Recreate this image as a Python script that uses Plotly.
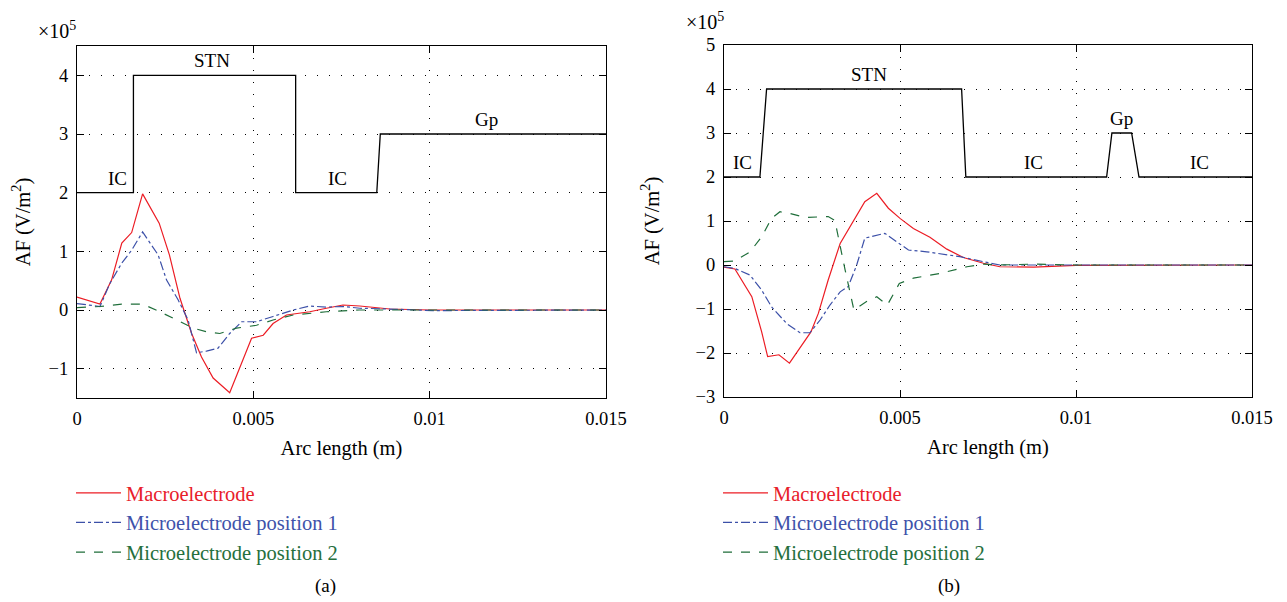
import plotly.graph_objects as go

# ---------------- data (panel a) ----------------
tis_a_x = [0, 0.0016, 0.0016, 0.0062, 0.0062, 0.0085, 0.0086, 0.015]
tis_a_y = [2, 2, 4, 4, 2, 2, 3, 3]

macro_a_x = [0, 0.00065, 0.00098, 0.00127, 0.00155, 0.00186, 0.00233, 0.00262, 0.00292, 0.00325,
             0.00353, 0.00386, 0.00433, 0.00495, 0.00528, 0.00556, 0.00594, 0.0066, 0.00707, 0.00754,
             0.00802, 0.00887, 0.01, 0.015]
macro_a_y = [0.22, 0.10, 0.51, 1.14, 1.32, 1.98, 1.48, 0.94, 0.20, -0.40,
             -0.80, -1.16, -1.41, -0.48, -0.43, -0.23, -0.085, -0.03, 0.03, 0.085,
             0.068, 0.017, 0.0, 0.0]

micro1_a_x = [0, 0.00065, 0.00093, 0.00127, 0.00155, 0.00186, 0.0023, 0.00254, 0.00287, 0.00315,
              0.00339, 0.00367, 0.004, 0.00433, 0.00467, 0.00509, 0.00556, 0.00613, 0.0066, 0.00707,
              0.00754, 0.00802, 0.00867, 0.0101, 0.015]
micro1_a_y = [0.11, 0.06, 0.45, 0.80, 1.02, 1.33, 0.94, 0.51, 0.17, -0.17,
              -0.73, -0.70, -0.65, -0.40, -0.20, -0.20, -0.11, 0.0, 0.068, 0.05,
              0.06, 0.03, 0.02, -0.01, 0.0]

micro2_a_x = [0, 0.00065, 0.00127, 0.00186, 0.00235, 0.00282, 0.0033, 0.00367, 0.00405, 0.00452,
              0.00509, 0.00556, 0.00613, 0.00707, 0.008, 0.015]
micro2_a_y = [0.04, 0.06, 0.10, 0.10, -0.03, -0.17, -0.31, -0.37, -0.40, -0.31,
              -0.26, -0.17, -0.085, -0.03, 0.0, 0.0]

# ---------------- data (panel b) ----------------
tis_b_x = [0, 0.00102, 0.00121, 0.00675, 0.00687, 0.01087, 0.01102, 0.01158, 0.01179, 0.015]
tis_b_y = [2, 2, 4, 4, 2, 2, 3, 3, 2, 2]

macro_b_x = [0, 0.00031, 0.00079, 0.00107, 0.00124, 0.00156, 0.00186, 0.00216, 0.00247, 0.00268,
             0.00296, 0.0033, 0.00367, 0.004, 0.00434, 0.00467, 0.005, 0.00538, 0.00585, 0.00633,
             0.0068, 0.00737, 0.00784, 0.0088, 0.01, 0.015]
macro_b_y = [-0.05, -0.09, -0.72, -1.52, -2.08, -2.04, -2.23, -1.89, -1.52, -1.10,
             -0.34, 0.49, 0.98, 1.44, 1.63, 1.29, 1.06, 0.83, 0.63, 0.36,
             0.17, 0.04, -0.04, -0.05, -0.01, 0.0]

micro1_b_x = [0, 0.00031, 0.00074, 0.00107, 0.00135, 0.00178, 0.00216, 0.00244, 0.00273, 0.00301,
              0.0033, 0.00353, 0.00377, 0.004, 0.00457, 0.0049, 0.00524, 0.00576, 0.0067, 0.00737,
              0.00784, 0.015]
micro1_b_y = [-0.04, -0.08, -0.23, -0.57, -0.95, -1.33, -1.54, -1.54, -1.25, -0.91,
              -0.61, -0.49, 0.0, 0.61, 0.72, 0.53, 0.34, 0.30, 0.19, 0.075,
              0.0, 0.0]

micro2_b_x = [0, 0.00031, 0.00074, 0.00107, 0.00135, 0.00159, 0.00188, 0.0023, 0.00296, 0.00315,
              0.00344, 0.00369, 0.00405, 0.00434, 0.00464, 0.00498, 0.00538, 0.00614, 0.0069, 0.00737,
              0.00784, 0.0088, 0.01, 0.015]
micro2_b_y = [0.075, 0.09, 0.30, 0.64, 1.06, 1.21, 1.17, 1.08, 1.10, 1.01,
              -0.11, -1.02, -0.83, -0.72, -0.91, -0.42, -0.30, -0.19, -0.04, 0.02,
              0.0, 0.02, 0.0, 0.0]

labels_a = ["IC", "STN", "IC", "Gp"]
labels_a_x = [0.00116, 0.00382, 0.0074, 0.0116]
labels_a_y = [2, 4, 2, 3]
labels_b = ["IC", "STN", "IC", "Gp", "IC"]
labels_b_x = [0.00052, 0.00412, 0.0088, 0.0113, 0.0135]
labels_b_y = [2, 4, 2, 3, 2]

x_ticks = [0, 0.005, 0.01, 0.015]
x_ticklabels = ["0", "0.005", "0.01", "0.015"]

series_names = ["Macroelectrode", "Microelectrode position 1", "Microelectrode position 2"]
RED, BLUE, GREEN = "#ec1c24", "#3c50a8", "#1f6e3a"
TXT_RED, TXT_BLUE, TXT_GREEN = "#e8202a", "#3e52aa", "#256f3d"

FONT = "Liberation Serif"

fig = go.Figure()

def add_panel(xa, ya, legend, tis_x, tis_y, data):
    fig.add_trace(go.Scatter(x=tis_x, y=tis_y, mode="lines", line=dict(color="black", width=1.3),
                             showlegend=False, xaxis=xa, yaxis=ya, hoverinfo="skip"))
    styles = [(RED, "solid", TXT_RED), (BLUE, "dashdot", TXT_BLUE), (GREEN, "dash", TXT_GREEN)]
    for (xs, ys), name, (c, d, tc) in zip(data, series_names, styles):
        fig.add_trace(go.Scatter(x=xs, y=ys, mode="lines", line=dict(color=c, width=1.2, dash=d),
                                 name=f"<span style='color:{tc}'>{name}</span>",
                                 xaxis=xa, yaxis=ya, legend=legend))

add_panel("x", "y", "legend", tis_a_x, tis_a_y,
          [(macro_a_x, macro_a_y), (micro1_a_x, micro1_a_y), (micro2_a_x, micro2_a_y)])
add_panel("x2", "y2", "legend2", tis_b_x, tis_b_y,
          [(macro_b_x, macro_b_y), (micro1_b_x, micro1_b_y), (micro2_b_x, micro2_b_y)])

W, H = 1287, 602
O = 8  # page body margin offset (screen px -> figure px)

def fx(px):
    return (px - O) / W

def fy(py):
    return 1 - (py - O) / H

dom_a_x = [fx(77), fx(606)]
dom_b_x = [fx(724), fx(1252)]
dom_y = [fy(398), fy(46)]
dom_y2 = [fy(397), fy(45)]

axis_common = dict(showline=True, linecolor="black", linewidth=1, mirror="ticks",
                   ticks="inside", ticklen=7, tickcolor="black", tickwidth=1,
                   showgrid=True, gridcolor="black", gridwidth=1, griddash="1px,11px",
                   zeroline=False, automargin=False,
                   tickfont=dict(family=FONT, size=18.5, color="black"))
xt = dict(title=dict(text="Arc length (m)", standoff=12, font=dict(family=FONT, size=20.5)),
          ticklabelstandoff=4)
yt = dict(title=dict(text="AF (V/m<sup>2</sup>)", standoff=30, font=dict(family=FONT, size=20.5)),
          ticklabelstandoff=4)

leg_common = dict(xanchor="left", yanchor="top", bgcolor="rgba(0,0,0,0)",
                  font=dict(family=FONT, size=20.5), itemwidth=45, tracegroupgap=0)

fig.update_layout(
    width=W, height=H, margin=dict(l=0, r=0, t=0, b=0, autoexpand=False),
    paper_bgcolor="white", plot_bgcolor="white",
    font=dict(family=FONT, size=18, color="black"),
    xaxis=dict(domain=dom_a_x, range=[0, 0.015], tickvals=x_ticks, ticktext=x_ticklabels,
               anchor="y", **xt, **axis_common),
    yaxis=dict(domain=dom_y, range=[-1.5, 4.5], dtick=1, tick0=0, anchor="x", **yt, **axis_common),
    xaxis2=dict(domain=dom_b_x, range=[0, 0.015], tickvals=x_ticks, ticktext=x_ticklabels,
                anchor="y2", **xt, **axis_common),
    yaxis2=dict(domain=dom_y2, range=[-3, 5], dtick=1, tick0=0, anchor="x2", **yt, **axis_common),
    legend=dict(x=fx(71), y=fy(473), **leg_common),
    legend2=dict(x=fx(718), y=fy(473), **leg_common),
)

ann = []
for t, x, y in zip(labels_a, labels_a_x, labels_a_y):
    ann.append(dict(text=t, x=x, y=y, xref="x", yref="y", showarrow=False, yanchor="bottom",
                    yshift=2, font=dict(family=FONT, size=19)))
for t, x, y in zip(labels_b, labels_b_x, labels_b_y):
    ann.append(dict(text=t, x=x, y=y, xref="x2", yref="y2", showarrow=False, yanchor="bottom",
                    yshift=2, font=dict(family=FONT, size=19)))
ann.append(dict(text="×10<sup>5</sup>", x=fx(36), y=fy(30), xref="paper", yref="paper",
                showarrow=False, xanchor="left", yanchor="middle", font=dict(family=FONT, size=20)))
ann.append(dict(text="×10<sup>5</sup>", x=fx(684), y=fy(21), xref="paper", yref="paper",
                showarrow=False, xanchor="left", yanchor="middle", font=dict(family=FONT, size=20)))
ann.append(dict(text="(a)", x=fx(313), y=fy(586), xref="paper", yref="paper", yanchor="middle",
                showarrow=False, font=dict(family=FONT, size=19)))
ann.append(dict(text="(b)", x=fx(962), y=fy(586), xref="paper", yref="paper", yanchor="middle",
                showarrow=False, font=dict(family=FONT, size=19)))
fig.update_layout(annotations=ann)

fig.write_html("out.html")
